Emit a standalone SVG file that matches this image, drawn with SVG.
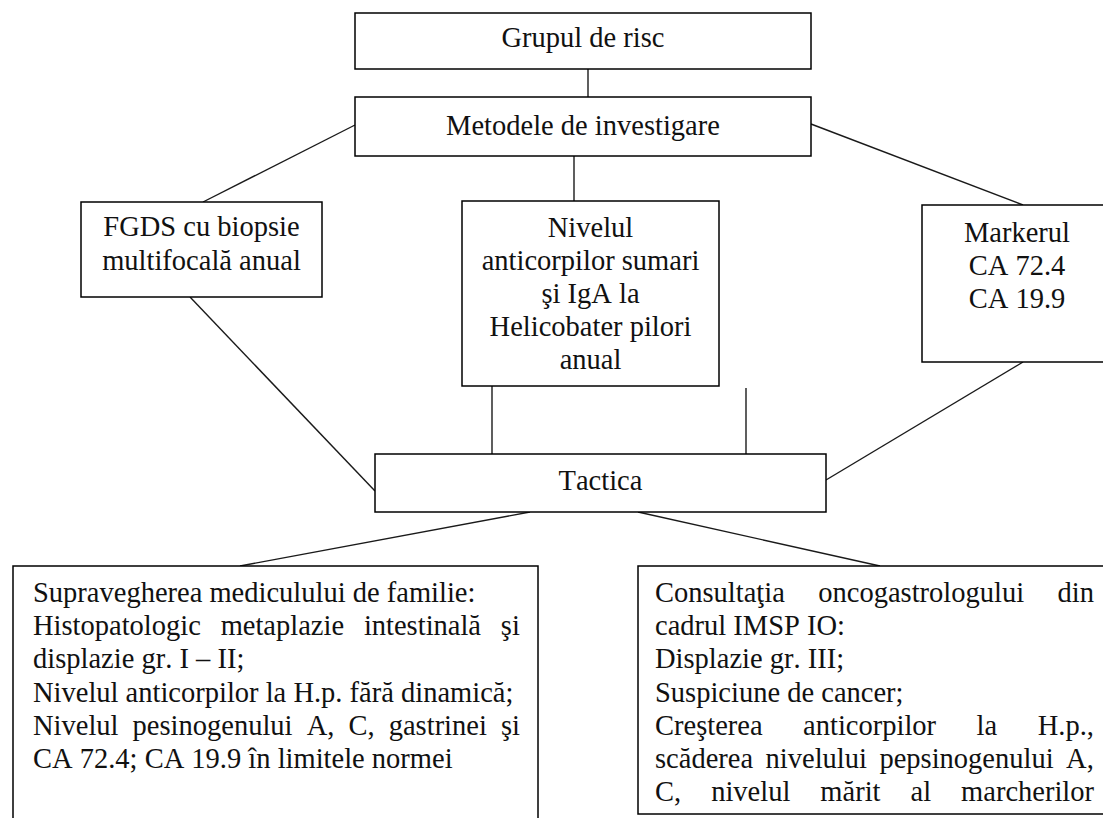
<svg xmlns="http://www.w3.org/2000/svg" width="1103" height="818" viewBox="0 0 1103 818">
<style>
  .box { fill: #fff; stroke: #000; stroke-width: 1.5; }
  .ln { stroke: #1a1a1a; stroke-width: 1.4; fill: none; }
  text { font-family: "Liberation Serif", "Times New Roman", serif; font-size: 28.5px; fill: #111; font-kerning: none; }
  .c { text-anchor: middle; }
</style>
<rect width="1103" height="818" fill="#fff"/>
<g id="connectors">
  <line class="ln" x1="588" y1="69" x2="588" y2="97"/>
  <line class="ln" x1="574" y1="156" x2="574" y2="201"/>
  <line class="ln" x1="355" y1="125" x2="203" y2="202"/>
  <line class="ln" x1="811" y1="124" x2="1023" y2="205"/>
  <line class="ln" x1="190" y1="297" x2="375" y2="491"/>
  <line class="ln" x1="492" y1="386" x2="492" y2="454"/>
  <line class="ln" x1="746" y1="388" x2="746" y2="454"/>
  <line class="ln" x1="1023" y1="362" x2="826" y2="480"/>
  <line class="ln" x1="530" y1="512" x2="240" y2="566"/>
  <line class="ln" x1="638" y1="512" x2="880" y2="566"/>
</g>
<g id="grupul">
  <rect class="box" x="355" y="13" width="456" height="56"/>
  <text class="c" x="583" y="47">Grupul de risc</text>
</g>
<g id="metodele">
  <rect class="box" x="355" y="97" width="456" height="59"/>
  <text class="c" x="583" y="135">Metodele de investigare</text>
</g>
<g id="fgds">
  <rect class="box" x="81" y="202" width="241" height="95"/>
  <text class="c" x="201.5" y="236">FGDS cu biopsie</text>
  <text class="c" x="201.5" y="270">multifocală anual</text>
</g>
<g id="nivelul">
  <rect class="box" x="462" y="201" width="257" height="185"/>
  <text class="c" x="590.5" y="237">Nivelul</text>
  <text class="c" x="590.5" y="270">anticorpilor sumari</text>
  <text class="c" x="590.5" y="303">şi IgA la</text>
  <text class="c" x="590.5" y="336">Helicobater pilori</text>
  <text class="c" x="590.5" y="369">anual</text>
</g>
<g id="markerul">
  <rect class="box" x="922" y="205" width="190" height="157"/>
  <text class="c" x="1017" y="242">Markerul</text>
  <text class="c" x="1017" y="275">CA 72.4</text>
  <text class="c" x="1017" y="308">CA 19.9</text>
</g>
<g id="tactica">
  <rect class="box" x="375" y="454" width="451" height="58"/>
  <text class="c" x="600.5" y="490">Tactica</text>
</g>
<g id="supraveghere">
  <rect class="box" x="13" y="566" width="525" height="270"/>
  <text x="33" y="602">Supravegherea mediculului de familie:</text>
  <text x="33" y="635.2" word-spacing="12.7">Histopatologic metaplazie intestinală şi</text>
  <text x="33" y="668.4">displazie gr. I – II;</text>
  <text x="33" y="701.6">Nivelul anticorpilor la H.p. fără dinamică;</text>
  <text x="33" y="734.8" word-spacing="7">Nivelul pesinogenului A, C, gastrinei şi</text>
  <text x="33" y="768">CA 72.4; CA 19.9 în limitele normei</text>
</g>
<g id="consultatia">
  <rect class="box" x="638" y="566" width="480" height="248"/>
  <text x="655" y="602" word-spacing="26.3">Consultaţia oncogastrologului din</text>
  <text x="655" y="635.2">cadrul IMSP IO:</text>
  <text x="655" y="668.4">Displazie gr. III;</text>
  <text x="655" y="701.6">Suspiciune de cancer;</text>
  <text x="655" y="734.8" word-spacing="33.4">Creşterea anticorpilor la H.p.,</text>
  <text x="655" y="768" word-spacing="5.4">scăderea nivelului pepsinogenului A,</text>
  <text x="655" y="801.2" word-spacing="22.9">C, nivelul mărit al marcherilor</text>
</g>
</svg>
